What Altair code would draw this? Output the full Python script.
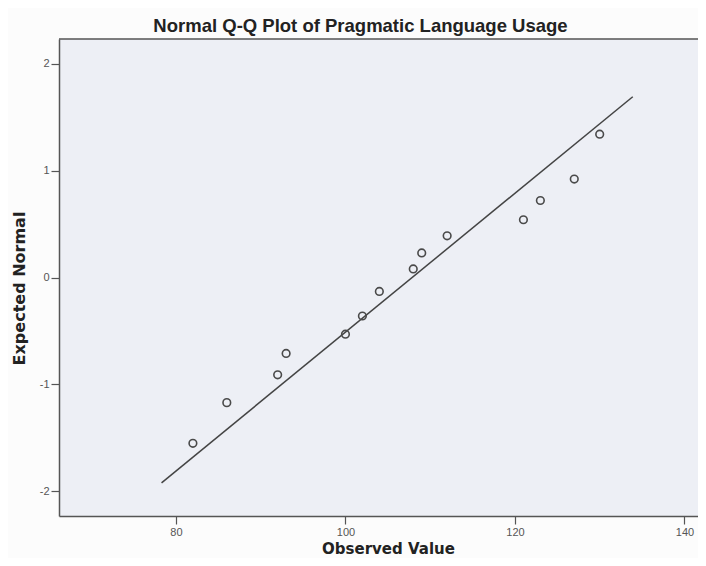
import altair as alt
import pandas as pd

observed = [82, 86, 92, 93, 100, 102, 104, 108, 109, 112, 121, 123, 127, 130]
expected = [-1.55, -1.17, -0.91, -0.71, -0.53, -0.36, -0.13, 0.08, 0.23, 0.39, 0.54, 0.72, 0.92, 1.34]

# Reference line endpoints
line_x = [78.3, 133.9]
line_y = [-1.92, 1.69]

x_ticks = [80, 100, 120, 140]
y_ticks = [-2, -1, 0, 1, 2]

title_text = "Normal Q-Q Plot of Pragmatic Language Usage"
x_title = "Observed Value"
y_title = "Expected Normal"

W, H = 639, 477
XDOM = [66.2, 141.6]
YDOM = [-2.23, 2.23]

pts = pd.DataFrame({"obs": observed, "exp": expected})
ln = pd.DataFrame({"obs": line_x, "exp": line_y})

axis_common = dict(
    domainColor="#555555", domainWidth=1.5, tickColor="#555555", tickWidth=1.2,
    tickSize=8, labelColor="#555555", labelFont="Liberation Sans",
    labelFontSize=11, grid=False, titleColor="#222222",
    titleFont="DejaVu Sans", titleFontWeight="bold", labelExpr="datum.value",
)

xenc = alt.X("obs:Q", scale=alt.Scale(domain=XDOM, nice=False, zero=False),
             axis=alt.Axis(values=x_ticks, title=x_title, labelPadding=2,
                           titleX=329, titleY=37, titleBaseline="alphabetic",
                           titleFontSize=15, **axis_common))
yenc = alt.Y("exp:Q", scale=alt.Scale(domain=YDOM, nice=False, zero=False),
             axis=alt.Axis(values=y_ticks, title=y_title, labelPadding=2,
                           titleX=-35, titleY=249, titleAngle=270, titleAlign="center",
                           titleBaseline="alphabetic", titleFontSize=16, **axis_common))

line = alt.Chart(ln).mark_line(color="#444444", strokeWidth=1.5).encode(x=xenc, y=yenc)
points = alt.Chart(pts).mark_point(shape="circle", filled=False, size=58, color="#4a4a4a",
                                   strokeWidth=1.6, opacity=1).encode(x="obs:Q", y="exp:Q")
top = alt.Chart(pd.DataFrame({"a": [0]})).mark_rule(color="#555555", strokeWidth=1.5).encode(
    y=alt.value(0), x=alt.value(0), x2=alt.value(W))

chart = alt.layer(line, points, top).properties(
    width=W, height=H,
    autosize=alt.AutoSizeParams(type="none"),
    padding={"left": 51, "top": 31, "right": 0, "bottom": 42},
    background="#fcfcfc",
    title=alt.TitleParams(title_text, font="Liberation Sans", fontSize=18.5, fontWeight="bold",
                          color="#222222", anchor="middle", frame="group", dx=-18, dy=19,
                          offset=7, baseline="alphabetic"),
).configure_view(fill="#edeff5", strokeWidth=0)

chart.save("out.html", embed_options={"renderer": "svg", "actions": False})
